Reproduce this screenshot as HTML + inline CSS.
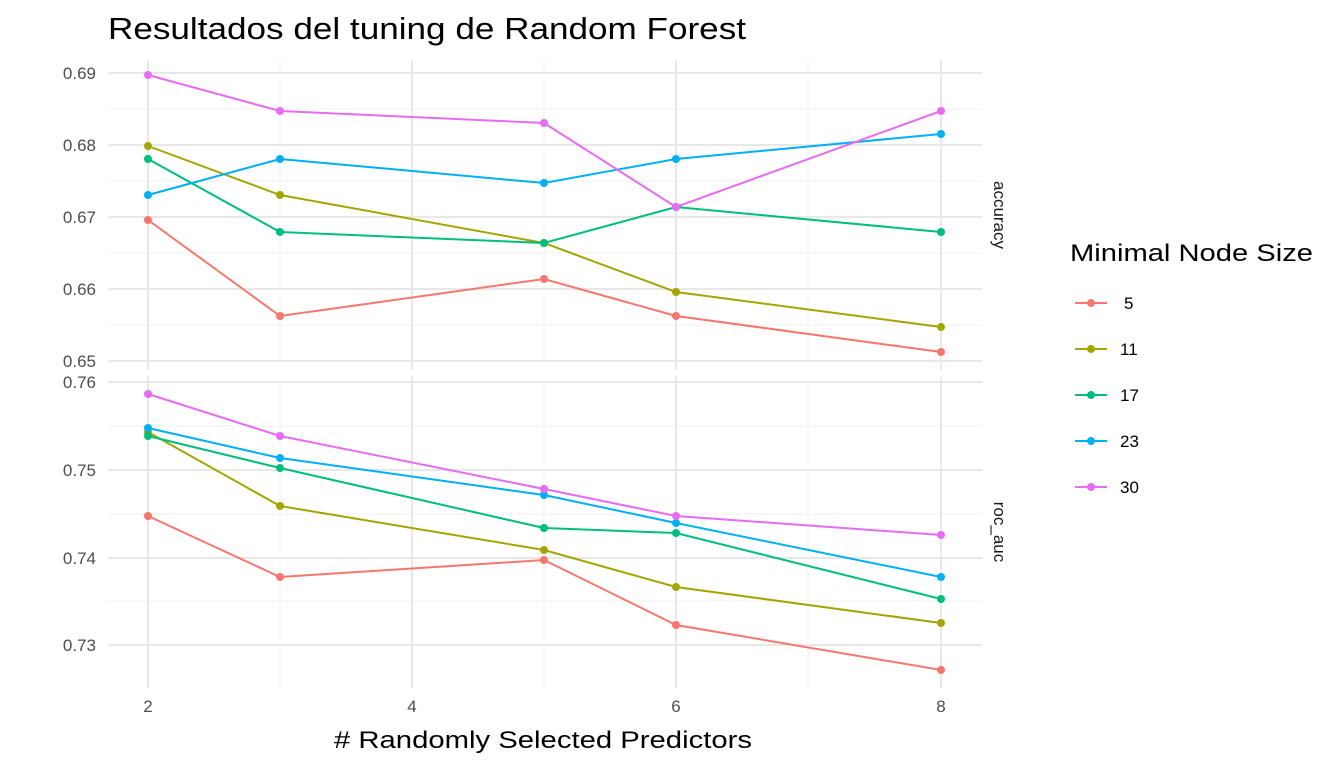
<!DOCTYPE html>
<html><head><meta charset="utf-8"><style>body{margin:0;background:#fff}svg{display:block}text{font-family:"Liberation Sans",Arial,sans-serif}</style></head><body>
<svg width="1344" height="768" viewBox="0 0 1344 768" xmlns="http://www.w3.org/2000/svg">
<text x="108" y="39" font-size="31" fill="#000" textLength="638" lengthAdjust="spacingAndGlyphs">Resultados del tuning de Random Forest</text>
<g stroke="#f3f3f3" stroke-width="1.2">
<line x1="280" y1="60" x2="280" y2="370"/><line x1="544" y1="60" x2="544" y2="370"/><line x1="808" y1="60" x2="808" y2="370"/>
<line x1="280" y1="376" x2="280" y2="688"/><line x1="544" y1="376" x2="544" y2="688"/><line x1="808" y1="376" x2="808" y2="688"/>
<line x1="108" y1="109" x2="982" y2="109"/><line x1="108" y1="181" x2="982" y2="181"/><line x1="108" y1="253" x2="982" y2="253"/><line x1="108" y1="325" x2="982" y2="325"/>
<line x1="108" y1="426" x2="982" y2="426"/><line x1="108" y1="514" x2="982" y2="514"/><line x1="108" y1="601" x2="982" y2="601"/>
</g>
<g stroke="#e8e8e8" stroke-width="2">
<line x1="148" y1="60" x2="148" y2="370"/><line x1="412" y1="60" x2="412" y2="370"/><line x1="676" y1="60" x2="676" y2="370"/><line x1="941" y1="60" x2="941" y2="370"/>
<line x1="148" y1="376" x2="148" y2="688"/><line x1="412" y1="376" x2="412" y2="688"/><line x1="676" y1="376" x2="676" y2="688"/><line x1="941" y1="376" x2="941" y2="688"/>
<line x1="108" y1="73" x2="982" y2="73"/><line x1="108" y1="145" x2="982" y2="145"/><line x1="108" y1="217" x2="982" y2="217"/><line x1="108" y1="289" x2="982" y2="289"/><line x1="108" y1="361" x2="982" y2="361"/>
<line x1="108" y1="382" x2="982" y2="382"/><line x1="108" y1="470" x2="982" y2="470"/><line x1="108" y1="558" x2="982" y2="558"/><line x1="108" y1="645" x2="982" y2="645"/>
</g>
<g font-size="17" fill="#4d4d4d" text-anchor="end">
<text x="96" y="79">0.69</text><text x="96" y="151">0.68</text><text x="96" y="223">0.67</text><text x="96" y="295">0.66</text><text x="96" y="367">0.65</text>
<text x="96" y="388">0.76</text><text x="96" y="476">0.75</text><text x="96" y="564">0.74</text><text x="96" y="651">0.73</text>
</g>
<g font-size="17" fill="#4d4d4d" text-anchor="middle">
<text x="148" y="712">2</text><text x="412" y="712">4</text><text x="676" y="712">6</text><text x="941" y="712">8</text>
</g>
<text x="334" y="748" font-size="24" fill="#000" textLength="418" lengthAdjust="spacingAndGlyphs"># Randomly Selected Predictors</text>
<g font-size="17" fill="#1a1a1a">
<text transform="translate(994,215) rotate(90)" text-anchor="middle">accuracy</text>
<text transform="translate(994,532) rotate(90)" text-anchor="middle">roc_auc</text>
</g>
<g fill="none" stroke-width="2">
<polyline stroke="#F8766D" points="148,220 280,316 544,279 676,316 941,352"/>
<polyline stroke="#A3A500" points="148,146 280,195 544,243 676,292 941,327"/>
<polyline stroke="#00BF7D" points="148,159 280,232 544,243 676,207 941,232"/>
<polyline stroke="#00B0F6" points="148,195 280,159 544,183 676,159 941,134"/>
<polyline stroke="#E76BF3" points="148,75 280,111 544,123 676,207 941,111"/>
<polyline stroke="#F8766D" points="148,516 280,577 544,560 676,625 941,670"/>
<polyline stroke="#A3A500" points="148,432 280,506 544,550 676,587 941,623"/>
<polyline stroke="#00BF7D" points="148,436 280,468 544,528 676,533 941,599"/>
<polyline stroke="#00B0F6" points="148,428 280,458 544,495 676,523 941,577"/>
<polyline stroke="#E76BF3" points="148,394 280,436 544,489 676,516 941,535"/>
</g>
<g>
<g fill="#F8766D"><circle cx="148" cy="220" r="4"/><circle cx="280" cy="316" r="4"/><circle cx="544" cy="279" r="4"/><circle cx="676" cy="316" r="4"/><circle cx="941" cy="352" r="4"/><circle cx="148" cy="516" r="4"/><circle cx="280" cy="577" r="4"/><circle cx="544" cy="560" r="4"/><circle cx="676" cy="625" r="4"/><circle cx="941" cy="670" r="4"/></g>
<g fill="#A3A500"><circle cx="148" cy="146" r="4"/><circle cx="280" cy="195" r="4"/><circle cx="544" cy="243" r="4"/><circle cx="676" cy="292" r="4"/><circle cx="941" cy="327" r="4"/><circle cx="148" cy="432" r="4"/><circle cx="280" cy="506" r="4"/><circle cx="544" cy="550" r="4"/><circle cx="676" cy="587" r="4"/><circle cx="941" cy="623" r="4"/></g>
<g fill="#00BF7D"><circle cx="148" cy="159" r="4"/><circle cx="280" cy="232" r="4"/><circle cx="544" cy="243" r="4"/><circle cx="676" cy="207" r="4"/><circle cx="941" cy="232" r="4"/><circle cx="148" cy="436" r="4"/><circle cx="280" cy="468" r="4"/><circle cx="544" cy="528" r="4"/><circle cx="676" cy="533" r="4"/><circle cx="941" cy="599" r="4"/></g>
<g fill="#00B0F6"><circle cx="148" cy="195" r="4"/><circle cx="280" cy="159" r="4"/><circle cx="544" cy="183" r="4"/><circle cx="676" cy="159" r="4"/><circle cx="941" cy="134" r="4"/><circle cx="148" cy="428" r="4"/><circle cx="280" cy="458" r="4"/><circle cx="544" cy="495" r="4"/><circle cx="676" cy="523" r="4"/><circle cx="941" cy="577" r="4"/></g>
<g fill="#E76BF3"><circle cx="148" cy="75" r="4"/><circle cx="280" cy="111" r="4"/><circle cx="544" cy="123" r="4"/><circle cx="676" cy="207" r="4"/><circle cx="941" cy="111" r="4"/><circle cx="148" cy="394" r="4"/><circle cx="280" cy="436" r="4"/><circle cx="544" cy="489" r="4"/><circle cx="676" cy="516" r="4"/><circle cx="941" cy="535" r="4"/></g>
</g>
<text x="1070" y="261" font-size="24" fill="#000" textLength="243" lengthAdjust="spacingAndGlyphs">Minimal Node Size</text>
<g stroke-width="2">
<line x1="1075" y1="303" x2="1107" y2="303" stroke="#F8766D"/><circle cx="1091" cy="303" r="4" fill="#F8766D"/>
<line x1="1075" y1="349" x2="1107" y2="349" stroke="#A3A500"/><circle cx="1091" cy="349" r="4" fill="#A3A500"/>
<line x1="1075" y1="395" x2="1107" y2="395" stroke="#00BF7D"/><circle cx="1091" cy="395" r="4" fill="#00BF7D"/>
<line x1="1075" y1="441" x2="1107" y2="441" stroke="#00B0F6"/><circle cx="1091" cy="441" r="4" fill="#00B0F6"/>
<line x1="1075" y1="487" x2="1107" y2="487" stroke="#E76BF3"/><circle cx="1091" cy="487" r="4" fill="#E76BF3"/>
</g>
<g font-size="17" fill="#000">
<text x="1124" y="309">5</text><text x="1120" y="355">11</text><text x="1120" y="401">17</text><text x="1120" y="447">23</text><text x="1120" y="493">30</text>
</g>
</svg>
</body></html>
